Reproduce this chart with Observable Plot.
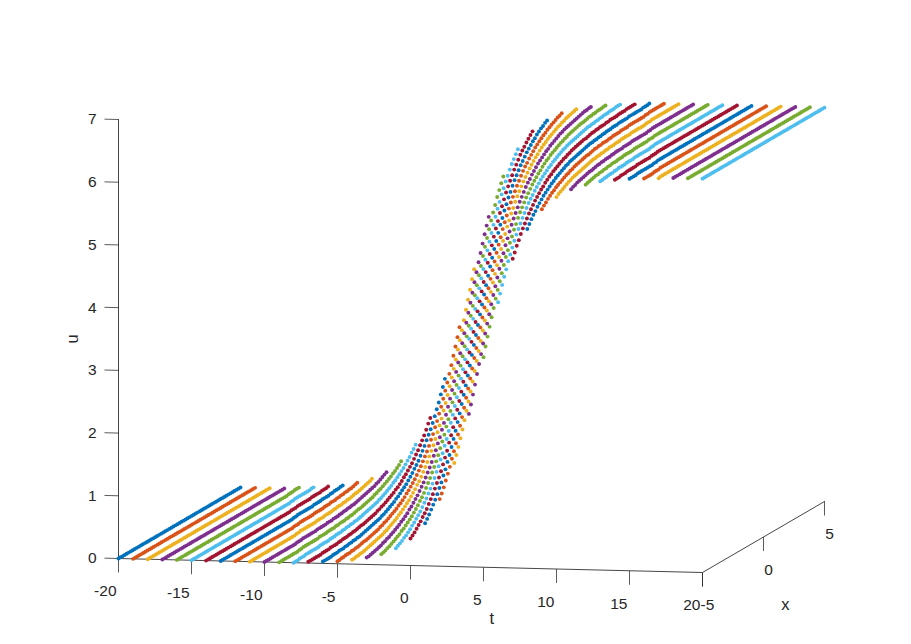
<!DOCTYPE html>
<html><head><meta charset="utf-8">
<script src="https://cdn.jsdelivr.net/npm/d3@7"></script>
<script src="https://cdn.jsdelivr.net/npm/@observablehq/plot@0.6"></script>
<style>html,body{margin:0;padding:0;background:#fff}svg{display:block}</style>
</head><body><div id="chart"></div>
<script>
// Grid of the surface
const tValues = [-20,-19,-18,-17,-16,-15,-14,-13,-12,-11,-10,-9,-8,-7,-6,-5,-4,-3,-2,-1,0,1,2,3,4,5,6,7,8,9,10,11,12,13,14,15,16,17,18,19,20];
const xValues = [-5,-4.833,-4.667,-4.5,-4.333,-4.167,-4,-3.833,-3.667,-3.5,-3.333,-3.167,-3,-2.833,-2.667,-2.5,-2.333,-2.167,-2,-1.833,-1.667,-1.5,-1.333,-1.167,-1,-0.833,-0.667,-0.5,-0.333,-0.167,0,0.167,0.333,0.5,0.667,0.833,1,1.167,1.333,1.5,1.667,1.833,2,2.167,2.333,2.5,2.667,2.833,3,3.167,3.333,3.5,3.667,3.833,4,4.167,4.333,4.5,4.667,4.833,5];
// u read along the travelling front, one entry per 1/13 of a t unit
const waveU = [0,
0.01,0.01,0.01,0.01,0.01,
0.02,0.02,0.02,0.02,0.02,0.02,0.02,0.02,0.02,0.02,0.02,0.02,0.02,0.02,0.02,
0.03,0.03,0.03,0.03,0.03,0.03,0.03,0.03,0.03,
0.04,0.04,0.04,0.04,0.04,0.04,0.04,
0.05,0.05,0.05,0.05,0.05,
0.06,0.06,0.06,0.06,0.06,0.07,0.07,0.07,0.07,0.08,0.08,0.08,0.08,0.09,0.09,0.09,0.10,0.10,0.11,0.11,0.11,0.12,0.12,0.13,0.13,0.14,0.14,0.15,0.15,0.16,0.16,0.17,0.17,0.18,0.19,0.19,0.20,0.21,0.22,0.22,0.23,0.24,0.25,0.26,0.27,0.28,0.29,0.30,0.31,0.32,0.33,0.35,0.36,0.37,0.38,0.40,0.41,0.43,0.44,0.46,0.48,0.49,0.51,0.53,0.55,0.57,0.59,0.61,0.63,0.66,0.68,0.70,0.73,0.75,0.78,0.81,0.84,0.87,0.90,0.93,0.96,1.00,1.03,1.07,1.11,1.14,1.18,1.22,1.27,1.31,1.35,1.40,1.45,1.49,1.54,1.60,1.65,1.70,1.76,1.81,1.87,1.93,1.99,2.05,2.11,2.17,2.24,2.30,2.37,2.44,2.50,2.57,2.64,2.71,2.78,2.85,2.93,3.00,3.07,
3.14,
3.21,3.28,3.35,3.43,3.50,3.57,3.64,3.71,3.78,3.84,3.91,3.98,4.04,4.11,4.17,4.23,4.29,4.35,4.41,4.47,4.52,4.58,4.63,4.68,4.74,4.79,4.83,4.88,4.93,4.97,5.01,5.06,5.10,5.14,5.17,5.21,5.25,5.28,5.32,5.35,5.38,5.41,5.44,5.47,5.50,5.53,5.55,5.58,5.60,5.62,5.65,5.67,5.69,5.71,5.73,5.75,5.77,5.79,5.80,5.82,5.84,5.85,5.87,5.88,5.90,5.91,5.92,5.93,5.95,5.96,5.97,5.98,5.99,6.00,6.01,6.02,6.03,6.04,6.05,6.06,6.06,6.07,6.08,6.09,6.09,6.10,6.11,6.11,6.12,6.12,6.13,6.13,6.14,6.14,6.15,6.15,6.16,6.16,6.17,6.17,6.17,6.18,6.18,6.19,6.19,6.19,6.20,6.20,6.20,6.20,6.21,6.21,6.21,6.21,
6.22,6.22,6.22,6.22,6.22,6.23,6.23,6.23,6.23,6.23,
6.24,6.24,6.24,6.24,6.24,6.24,6.24,
6.25,6.25,6.25,6.25,6.25,6.25,6.25,6.25,6.25,
6.26,6.26,6.26,6.26,6.26,6.26,6.26,6.26,6.26,6.26,6.26,6.26,6.26,6.26,6.26,
6.27,6.27,6.27,6.27,6.27,6.28];
const seriesColors = ["#0072BD","#D95319","#EDB120","#7E2F8E","#77AC30","#4DBEEE","#A2142F"];
const tTicks = [-20,-15,-10,-5,0,5,10,15,20];
const xTicks = [-5,0,5];
const uTicks = [0,1,2,3,4,5,6,7];

// Oblique view of (t, x, u) onto the two plot scales
const XSKEW = 0.8356, DEPTH = 7.1 / 62.7, TILT = 0.35 / 62.7;
const project = (t, x, u) => ({ px: t + (x + 5) * XSKEW, py: u - (t + 20) * TILT + (x + 5) * DEPTH });
const ink = "#262626";
const FRONT_OFFSET = 2;

const mid = waveU.indexOf(3.14);
const points = [];
tValues.forEach((t, ti) => {
  xValues.forEach((x, j) => {
    const i = mid + 13 * t - 60 - FRONT_OFFSET + 2 * j;
    const u = waveU[Math.max(0, Math.min(waveU.length - 1, i))];
    points.push({ ...project(t, x, u), color: seriesColors[ti % seriesColors.length] });
  });
});

const axisPath = [[-20,-5,7],[-20,-5,0],[20,-5,0],[20,5,0]].map(d => project(...d));
const tMarks = tTicks.map(t => ({ a: project(t,-5,0), b: project(t,-5,-14/62.7), label: String(t) }));
const xMarks = xTicks.map(x => ({ a: project(20,x,0), b: project(20,x,-14/62.7), label: String(x) }));
const uMarks = uTicks.map(u => ({ a: project(-20,-5,u), b: project(-20.96,-5,u), label: String(u) }));
const link = (data) => Plot.link(data, { x1: d => d.a.px, y1: d => d.a.py, x2: d => d.b.px, y2: d => d.b.py, stroke: ink, strokeWidth: 1, strokeOpacity: 0.75 });
const FS = 15.5;

const chart = Plot.plot({
  width: 911, height: 644,
  marginTop: 0, marginRight: 0, marginBottom: 0, marginLeft: 0,
  x: { type: "linear", domain: [-20, 28.356], range: [118, 824], axis: null },
  y: { type: "linear", domain: [0, 7], range: [558, 119], axis: null },
  style: { fontFamily: "'Liberation Sans', Arial, sans-serif", background: "#fff", overflow: "visible" },
  marks: [
    Plot.line(axisPath, { x: "px", y: "py", stroke: ink, strokeWidth: 1, strokeOpacity: 0.85 }),
    link(tMarks), link(xMarks), link(uMarks),
    Plot.text(tMarks, { x: d => d.a.px, y: d => d.a.py, text: "label", textAnchor: "end", dx: -2, dy: 33, fontSize: FS, fill: ink }),
    Plot.text(xMarks, { x: d => d.a.px, y: d => d.a.py, text: "label", textAnchor: "middle", dx: 5, dy: 33, fontSize: FS, fill: ink }),
    Plot.text(uMarks, { x: d => d.a.px, y: d => d.a.py, text: "label", textAnchor: "end", dx: -22, dy: 0, fontSize: FS, fill: ink }),
    Plot.text([{ ...project(5.5,-5,0), s: "t" }], { x: "px", y: "py", text: "s", dx: 1, dy: 51, fontSize: 16.5, fill: ink }),
    Plot.text([{ ...project(20,1.8,0), s: "x" }], { x: "px", y: "py", text: "s", dy: 81, fontSize: 16.5, fill: ink }),
    Plot.text([{ ...project(-20,-5,3.5), s: "u" }], { x: "px", y: "py", text: "s", dx: -46, rotate: -90, fontSize: 16.5, fill: ink }),
    Plot.dot(points, { x: "px", y: "py", r: 1.95, fill: "color", stroke: "none" })
  ]
});
document.getElementById("chart").append(chart);
</script>
</body></html>
